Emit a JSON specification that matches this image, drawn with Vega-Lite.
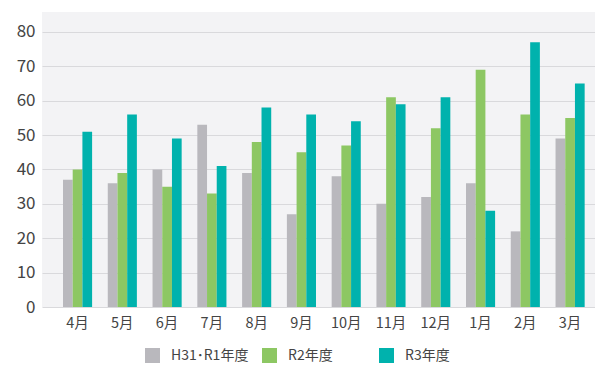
{
  "$schema": "https://vega.github.io/schema/vega-lite/v6.json",
  "width": 553,
  "height": 295,
  "autosize": {"type": "none"},
  "padding": {"left": 42, "top": 12, "right": 0, "bottom": 60},
  "background": "#ffffff",
  "config": {
    "view": {"fill": "#f3f3f5", "stroke": null},
    "font": "Noto Sans CJK JP"
  },
  "data": {
    "values": [
      {"month": "4月", "year": "H31･R1年度", "v": 37}, {"month": "4月", "year": "R2年度", "v": 40}, {"month": "4月", "year": "R3年度", "v": 51},
      {"month": "5月", "year": "H31･R1年度", "v": 36}, {"month": "5月", "year": "R2年度", "v": 39}, {"month": "5月", "year": "R3年度", "v": 56},
      {"month": "6月", "year": "H31･R1年度", "v": 40}, {"month": "6月", "year": "R2年度", "v": 35}, {"month": "6月", "year": "R3年度", "v": 49},
      {"month": "7月", "year": "H31･R1年度", "v": 53}, {"month": "7月", "year": "R2年度", "v": 33}, {"month": "7月", "year": "R3年度", "v": 41},
      {"month": "8月", "year": "H31･R1年度", "v": 39}, {"month": "8月", "year": "R2年度", "v": 48}, {"month": "8月", "year": "R3年度", "v": 58},
      {"month": "9月", "year": "H31･R1年度", "v": 27}, {"month": "9月", "year": "R2年度", "v": 45}, {"month": "9月", "year": "R3年度", "v": 56},
      {"month": "10月", "year": "H31･R1年度", "v": 38}, {"month": "10月", "year": "R2年度", "v": 47}, {"month": "10月", "year": "R3年度", "v": 54},
      {"month": "11月", "year": "H31･R1年度", "v": 30}, {"month": "11月", "year": "R2年度", "v": 61}, {"month": "11月", "year": "R3年度", "v": 59},
      {"month": "12月", "year": "H31･R1年度", "v": 32}, {"month": "12月", "year": "R2年度", "v": 52}, {"month": "12月", "year": "R3年度", "v": 61},
      {"month": "1月", "year": "H31･R1年度", "v": 36}, {"month": "1月", "year": "R2年度", "v": 69}, {"month": "1月", "year": "R3年度", "v": 28},
      {"month": "2月", "year": "H31･R1年度", "v": 22}, {"month": "2月", "year": "R2年度", "v": 56}, {"month": "2月", "year": "R3年度", "v": 77},
      {"month": "3月", "year": "H31･R1年度", "v": 49}, {"month": "3月", "year": "R2年度", "v": 55}, {"month": "3月", "year": "R3年度", "v": 65}
    ]
  },
  "mark": {"type": "bar"},
  "encoding": {
    "x": {
      "field": "month", "type": "nominal",
      "sort": ["4月","5月","6月","7月","8月","9月","10月","11月","12月","1月","2月","3月"],
      "scale": {"paddingInner": 0.35, "paddingOuter": 0.35, "align": 0.67},
      "axis": {"title": null, "labelAngle": 0, "domain": false, "ticks": false, "labelFontSize": 14.5, "labelColor": "#444444", "labelPadding": 9}
    },
    "xOffset": {
      "field": "year", "type": "nominal",
      "sort": ["H31･R1年度", "R2年度", "R3年度"],
      "scale": {"paddingInner": 0, "paddingOuter": 0}
    },
    "y": {
      "field": "v", "type": "quantitative",
      "scale": {"domain": [0, 85.8], "nice": false},
      "axis": {"title": null, "values": [0,10,20,30,40,50,60,70,80], "domain": false, "ticks": false, "labelFontSize": 17, "labelColor": "#444444", "labelPadding": 7, "gridColor": "#d9d9dc", "gridWidth": 1}
    },
    "color": {
      "field": "year", "type": "nominal",
      "sort": ["H31･R1年度", "R2年度", "R3年度"],
      "scale": {"domain": ["H31･R1年度", "R2年度", "R3年度"], "range": ["#b9b8bd", "#8dc763", "#00b2ad"]},
      "legend": {
        "title": null, "orient": "none", "direction": "horizontal",
        "legendX": 103, "legendY": 336, "padding": 0,
        "symbolType": "square", "symbolSize": 225, "symbolStrokeWidth": 0, "symbolOpacity": 1,
        "labelFontSize": 14, "labelColor": "#444444", "labelOffset": 11,
        "columnPadding": 13, "gridAlign": "all"
      }
    }
  }
}
